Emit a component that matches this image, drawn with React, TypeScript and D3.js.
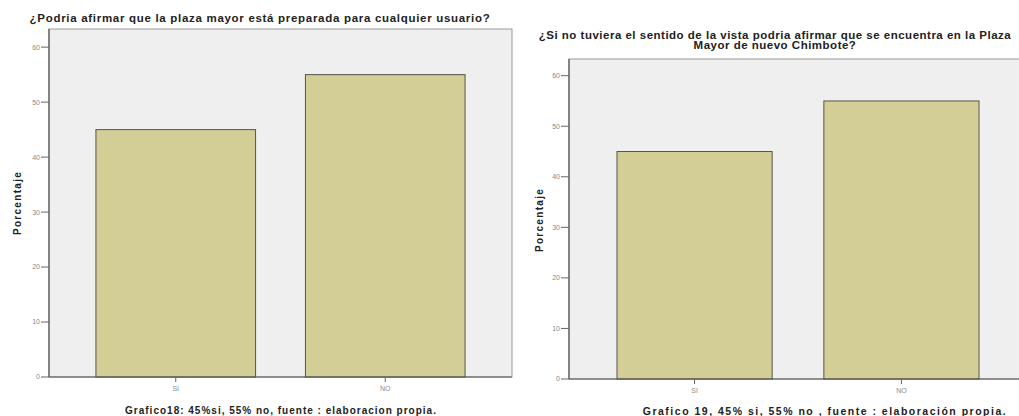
import React from "react";
import * as d3 from "d3";

const categories = ["SI", "NO"];
const valuesChart18 = [45, 55];
const valuesChart19 = [45, 55];
const yTicks = [0, 10, 20, 30, 40, 50, 60];
const title18 = ["¿Podria afirmar que la plaza mayor está preparada para cualquier usuario?"];
const title19 = [
  "¿Si no tuviera el sentido de la vista podria afirmar que se encuentra en la Plaza",
  "Mayor de nuevo Chimbote?",
];
const caption18 = "Grafico18: 45%si, 55% no, fuente : elaboracion propia.";
const caption19 = "Grafico 19, 45% si, 55% no , fuente : elaboración propia.";
const yLabel = "Porcentaje";

const FONT = "'Liberation Sans', Arial, sans-serif";

type ChartProps = {
  values: number[];
  x0: number;
  x1: number;
  y0: number;
  y1: number;
  titleLines: string[];
  titleX: number;
  titleY: number;
  titleSpacing: number;
  caption: string;
  captionX: number;
  captionY: number;
  captionSize: number;
  captionSpacing: number;
  yLabelX: number;
  yLabelY: number;
  paddingInner: number;
  paddingOuter: number;
};

function Chart(p: ChartProps) {
  const x = d3
    .scaleBand<string>()
    .domain(categories)
    .range([p.x0, p.x1])
    .paddingInner(p.paddingInner)
    .paddingOuter(p.paddingOuter);
  const y = d3.scaleLinear().domain([0, 63.3]).range([p.y1, p.y0]);
  return (
    <g>
      <rect x={p.x0} y={p.y0} width={p.x1 - p.x0} height={p.y1 - p.y0} fill="#efefef" stroke="#9a9a9a" strokeWidth={1} />
      {categories.map((c, i) => (
        <rect
          key={c}
          x={x(c)}
          y={y(p.values[i])}
          width={x.bandwidth()}
          height={y(0) - y(p.values[i])}
          fill="#d3cd96"
          stroke="#555548"
          strokeWidth={1}
        />
      ))}
      <line x1={p.x0} x2={p.x0} y1={p.y0} y2={p.y1} stroke="#555" strokeWidth={1.2} />
      <line x1={p.x0} x2={p.x1} y1={p.y1} y2={p.y1} stroke="#555" strokeWidth={1.2} />
      {yTicks.map((t) => (
        <g key={t}>
          <line x1={p.x0 - 8} x2={p.x0} y1={y(t)} y2={y(t)} stroke="#666" strokeWidth={1} />
          <text x={p.x0 - 9} y={y(t)} dy="0.35em" textAnchor="end" fontSize={7} fill="#888" fontFamily={FONT}>
            {t}
          </text>
        </g>
      ))}
      {categories.map((c) => (
        <g key={c}>
          <line
            x1={(x(c) ?? 0) + x.bandwidth() / 2}
            x2={(x(c) ?? 0) + x.bandwidth() / 2}
            y1={p.y1}
            y2={p.y1 + 5}
            stroke="#666"
          />
          <text
            x={(x(c) ?? 0) + x.bandwidth() / 2}
            y={p.y1 + 14}
            textAnchor="middle"
            fontSize={7}
            fill="#888"
            fontFamily={FONT}
          >
            {c}
          </text>
        </g>
      ))}
      {p.titleLines.map((l, i) => (
        <text
          key={i}
          x={p.titleX}
          y={p.titleY + i * 10}
          textAnchor="middle"
          fontSize={11.5}
          letterSpacing={p.titleSpacing}
          fontWeight="bold"
          fill="#222"
          fontFamily={FONT}
        >
          {l}
        </text>
      ))}
      <text
        x={p.captionX}
        y={p.captionY}
        textAnchor="middle"
        fontSize={p.captionSize}
        letterSpacing={p.captionSpacing}
        fontWeight="bold"
        fill="#222"
        fontFamily={FONT}
      >
        {p.caption}
      </text>
      <text
        transform={`translate(${p.yLabelX},${p.yLabelY}) rotate(-90)`}
        textAnchor="middle"
        fontSize={10}
        letterSpacing={1.3}
        fontWeight="bold"
        fill="#222"
        fontFamily={FONT}
      >
        {yLabel}
      </text>
    </g>
  );
}

export default function App() {
  return (
    <svg
      width={1019}
      height={416}
      style={{ position: "absolute", left: 0, top: 0, background: "#fff" }}
    >
      <rect width={1019} height={416} fill="#fff" />
      <Chart
        values={valuesChart18}
        x0={49}
        x1={512}
        y0={29}
        y1={377}
        titleLines={title18}
        titleX={260}
        titleY={22}
        titleSpacing={0.7}
        caption={caption18}
        captionX={281}
        captionY={414}
        captionSize={10}
        captionSpacing={1}
        yLabelX={21}
        yLabelY={203}
        paddingInner={0.238}
        paddingOuter={0.224}
      />
      <Chart
        values={valuesChart19}
        x0={569}
        x1={1027}
        y0={59}
        y1={379}
        titleLines={title19}
        titleX={775}
        titleY={39}
        titleSpacing={0.5}
        caption={caption19}
        captionX={825}
        captionY={415}
        captionSize={10.5}
        captionSpacing={1.5}
        yLabelX={543}
        yLabelY={220}
        paddingInner={0.25}
        paddingOuter={0.232}
      />
    </svg>
  );
}
